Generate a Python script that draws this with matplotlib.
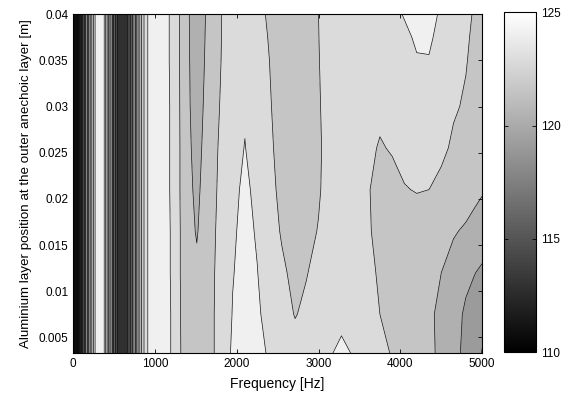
import numpy as np
import matplotlib
matplotlib.use('Agg')
import matplotlib.pyplot as plt
from matplotlib.colors import Normalize
from matplotlib.cm import ScalarMappable
from matplotlib.ticker import FuncFormatter

plt.rcParams['font.family'] = ['Liberation Sans', 'DejaVu Sans']
plt.rcParams['font.size'] = 8.5

# layer position [m], bottom to top
position_m = [0.0033, 0.0075, 0.012, 0.0165, 0.021, 0.0255, 0.03, 0.035, 0.0375, 0.04]

# below 1 kHz the level does not depend on the position
low_freq_hz = [0, 40, 73, 110, 150, 190, 230, 270, 300, 350, 380, 420, 460,
               500, 540, 580, 620, 660, 700, 740, 780, 820, 860, 908, 960]
low_freq_level = [103, 107.5, 111.2, 113.8, 116.3, 118.8, 121.3, 123.8, 124.3,
                  124.3, 123.8, 121.0, 118.2, 115.5, 113.5, 112.7, 112.8, 113.8,
                  115.3, 117.0, 118.8, 120.6, 122.3, 123.7, 124.2]

high_freq_hz = [1000, 1150, 1250, 1350, 1512, 1650, 1800, 1950, 2100, 2250,
                2400, 2550, 2714, 2850, 3000, 3150, 3280, 3420, 3600, 3750,
                3900, 4050, 4200, 4350, 4500, 4650, 4800, 4900, 5000]
high_level = [
    [124.3, 124.1, 123.3, 122.1, 121.8, 122.2, 122.8, 123.95, 124.2, 124.0, 123.65, 123.1, 122.9, 123.0, 123.4,
     123.7, 123.95, 123.7, 123.3, 122.9, 122.4, 121.7, 121.6, 121.4, 121.1, 120.5, 119.6, 119.3, 118.7],
    [124.3, 124.1, 123.3, 122.05, 121.7, 122.2, 122.8, 123.8, 124.15, 123.9, 123.4, 122.9, 122.45, 122.7, 123.1,
     123.4, 123.5, 123.4, 123.1, 122.5, 122.1, 121.7, 121.6, 121.4, 121.05, 120.5, 119.8, 119.5, 119.1],
    [124.3, 124.05, 123.25, 122.0, 121.5, 122.15, 122.8, 123.7, 124.1, 123.78, 123.2, 122.7, 122.2, 122.45, 122.8,
     123.2, 123.3, 123.25, 122.9, 122.3, 121.9, 121.8, 121.7, 121.5, 121.25, 120.8, 120.3, 120.05, 119.8],
    [124.3, 124.05, 123.25, 122.0, 121.15, 122.1, 122.75, 123.6, 124.05, 123.65, 123.0, 122.4, 122.0, 122.2, 122.55,
     123.05, 123.2, 123.15, 122.65, 122.15, 121.8, 122.0, 122.0, 121.9, 121.7, 121.35, 121.1, 120.9, 120.7],
    [124.3, 124.0, 123.2, 121.95, 120.95, 122.0, 122.7, 123.5, 123.95, 123.5, 122.85, 122.2, 121.9, 122.1, 122.4,
     122.95, 123.1, 123.15, 122.6, 122.1, 121.9, 122.45, 122.55, 122.5, 122.25, 122.0, 121.8, 121.55, 121.35],
    [124.3, 124.0, 123.2, 121.95, 120.75, 121.9, 122.65, 123.4, 123.78, 123.3, 122.7, 122.1, 121.8, 122.05, 122.35,
     122.95, 123.1, 123.2, 122.9, 122.35, 122.65, 122.8, 122.9, 122.8, 122.7, 122.35, 122.1, 121.9, 121.7],
    [124.3, 124.0, 123.2, 121.9, 120.6, 121.75, 122.55, 123.3, 123.65, 123.1, 122.6, 122.0, 121.75, 122.0, 122.4,
     123.0, 123.15, 123.25, 123.2, 122.9, 123.0, 123.2, 123.3, 123.25, 123.0, 122.6, 122.4, 122.1, 121.9],
    [124.3, 123.95, 123.15, 121.9, 120.5, 121.6, 122.45, 123.3, 123.55, 122.9, 122.5, 121.95, 121.7, 121.95, 122.45,
     123.1, 123.2, 123.3, 123.35, 123.2, 123.3, 123.5, 123.7, 123.7, 123.3, 122.85, 122.55, 122.3, 122.1],
    [124.3, 123.95, 123.15, 121.9, 120.45, 121.55, 122.42, 123.3, 123.52, 122.8, 122.45, 121.92, 121.7, 121.92, 122.48,
     123.1, 123.22, 123.32, 123.4, 123.3, 123.45, 123.6, 123.85, 123.9, 123.45, 122.95, 122.6, 122.38, 122.2],
    [124.3, 123.95, 123.15, 121.9, 120.4, 121.5, 122.4, 123.3, 123.5, 122.7, 122.4, 121.9, 121.7, 121.9, 122.5,
     123.1, 123.25, 123.35, 123.45, 123.4, 123.55, 123.8, 124.1, 124.1, 123.6, 123.1, 122.65, 122.45, 122.3],
]

freq = np.array(low_freq_hz + high_freq_hz, dtype=float)
pos = np.array(position_m)
level = np.hstack([np.tile(low_freq_level, (len(pos), 1)), np.array(high_level)])
F, P = np.meshgrid(freq, pos)

norm = Normalize(vmin=110, vmax=125)
cmap = plt.cm.gray
steps = np.arange(95, 125.01, 1.25)
# matlab style: each band painted near the colour of its lower level
fill_cols = [cmap(norm(s + 0.35)) for s in steps[:-1]]

fig = plt.figure(figsize=(5.62, 3.94), dpi=100)
ax = fig.add_axes([0.130, 0.104, 0.728, 0.860])
ax.contourf(F, P, level, levels=steps, colors=fill_cols)
ax.contour(F, P, level, levels=steps[1:-1], colors='#111111', linewidths=0.5)

ax.set_xlim(0, 5000)
ax.set_ylim(0.0033, 0.04)
ax.set_xticks([0, 1000, 2000, 3000, 4000, 5000])
ax.set_yticks([0.005, 0.01, 0.015, 0.02, 0.025, 0.03, 0.035, 0.04])
ax.yaxis.set_major_formatter(FuncFormatter(lambda v, p: '%g' % v))
ax.tick_params(direction='in', top=True, right=True, length=3, width=0.6)
for sp in ax.spines.values():
    sp.set_linewidth(0.8)
ax.set_xlabel('Frequency [Hz]', fontsize=10, labelpad=5)
ax.set_ylabel('Aluminium layer position at the outer anechoic layer [m]', fontsize=9.6, labelpad=5)

cax = fig.add_axes([0.897, 0.106, 0.057, 0.863])
sm = ScalarMappable(norm=norm, cmap=cmap)
cb = fig.colorbar(sm, cax=cax, ticks=[110, 115, 120, 125])
cb.outline.set_linewidth(0.8)
cax.tick_params(direction='in', left=True, right=True, length=3, width=0.6)

fig.savefig('out.png', dpi=100)
